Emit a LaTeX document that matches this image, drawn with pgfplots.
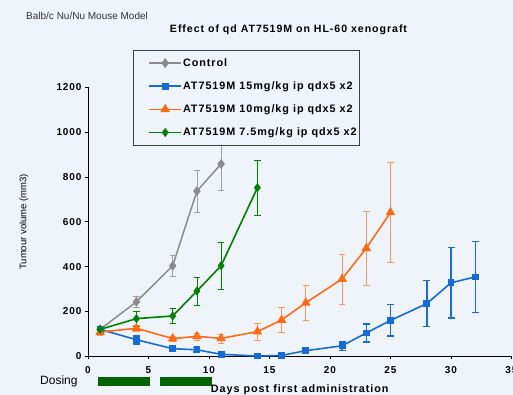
\documentclass[border=0pt]{standalone}
\usepackage{fontspec}
\setmainfont{Liberation Sans}
\newfontfamily\lsfont[LetterSpace=9]{Liberation Sans}
\usepackage{pgfplots}
\pgfplotsset{compat=1.18}
\usepackage{pgfplotstable}
\definecolor{bg}{RGB}{239,244,251}
\definecolor{cgray}{RGB}{140,140,140}
\definecolor{cgraye}{RGB}{160,160,160}
\definecolor{cblue}{RGB}{22,108,212}
\definecolor{corange}{RGB}{255,106,20}
\definecolor{corangee}{RGB}{255,150,90}
\definecolor{cgreen}{RGB}{0,128,0}
\definecolor{cdose}{RGB}{0,100,0}

\pgfplotstableread{
x y e
1 120 10
4 243 25
7 404 45
9 737 95
11 858 118
}\control
\pgfplotstableread{
x y e
1 120 12
4 74 20
7 34 8
9 29 10
11 9 8
14 1 3
16 4 4
18 25 10
21 47 20
23 104 40
25 160 70
28 235 102
30 328 158
32 354 158
}\blue
\pgfplotstableread{
x y e
1 108 12
4 125 15
7 79 12
9 89 15
11 80 20
14 110 36
16 162 56
18 239 80
21 345 112
23 482 167
25 642 224
}\orange
\pgfplotstableread{
x y e
1 120 10
4 168 33
7 180 34
9 291 62
11 404 103
14 752 124
}\green

\begin{document}
\begin{tikzpicture}
\fill[bg] (-88pt,-38.7pt) rectangle (425pt,356.3pt);
\begin{axis}[
  scale only axis, width=423.5pt, height=269pt,
  xmin=0, xmax=35, ymin=0, ymax=1200,
  axis x line=bottom, axis y line=left,
  axis line style={-, black, line width=0.8pt},
  clip=false,
  xtick={0,5,...,35}, ytick={0,200,...,1200},
  tick align=outside, major tick length=3pt,
  tick style={black, line width=0.6pt},
  /pgf/number format/assume math mode=true,
  /pgf/number format/set thousands separator={},
  ticklabel style={font=\lsfont\bfseries\fontsize{10}{12}\selectfont},
  xticklabel style={yshift=-4pt},
  ylabel={Tumour volume (mm3)},
  ylabel style={at={(axis description cs:-0.1511,0.5)}, anchor=center, font=\fontsize{9.5}{11}\selectfont},
  xlabel={Days post first administration},
  xlabel style={at={(axis description cs:0.5,0)}, anchor=center, yshift=-33.3pt, font=\lsfont\bfseries\fontsize{10.8}{12}\selectfont},
  legend cell align=left,
  legend style={at={(axis description cs:0.107,1.1387)}, anchor=north west, draw=black!75, fill=bg, line width=0.6pt,
    inner xsep=1.8pt, inner ysep=1.3pt, row sep=0pt,
    font=\lsfont\bfseries\fontsize{10.8}{12}\selectfont,
    nodes={inner xsep=1pt, inner ysep=0pt, minimum height=23.1pt}},
  legend image code/.code={\path (0pt,0pt); \draw[mark repeat=2,mark phase=2,#1] plot coordinates {(13pt,0pt)(29pt,0pt)(45pt,0pt)};},
  error bars/error bar style={line width=0.8pt},
  error bars/error mark options={rotate=90, mark size=3.2pt, line width=0.8pt},
]
\addplot[cgray, line width=1.5pt, mark=diamond*, mark size=3.8pt,
  error bars/.cd, y dir=both, y explicit, error bar style={cgraye}, error mark options={cgraye, rotate=90, mark size=3.2pt}]
  table[x=x, y=y, y error=e] {\control};
\addlegendentry{Control}
\addplot[cblue, line width=1.6pt, mark=square*, mark size=2.6pt,
  error bars/.cd, y dir=both, y explicit, error bar style={cblue, line width=1.4pt}, error mark options={cblue, rotate=90, mark size=3.5pt, line width=1.4pt}]
  table[x=x, y=y, y error=e] {\blue};
\addlegendentry{AT7519M 15mg/kg ip qdx5 x2}
\addplot[corange, line width=1.6pt, mark=triangle*, mark size=4pt,
  error bars/.cd, y dir=both, y explicit, error bar style={corangee}, error mark options={corangee, rotate=90, mark size=3.2pt}]
  table[x=x, y=y, y error=e] {\orange};
\addlegendentry{AT7519M 10mg/kg ip qdx5 x2}
\addplot[cgreen, line width=1.6pt, mark=diamond*, mark size=3.3pt,
  error bars/.cd, y dir=both, y explicit, error bar style={cgreen}, error mark options={cgreen, rotate=90, mark size=3.2pt}]
  table[x=x, y=y, y error=e] {\green};
\addlegendentry{AT7519M 7.5mg/kg ip qdx5 x2}
\fill[cdose] (axis cs:0.85,-91) rectangle (axis cs:5.12,-132.5);
\fill[cdose] (axis cs:5.95,-91) rectangle (axis cs:10.22,-132.5);
\end{axis}
\node[anchor=west, text=black!80, font=\fontsize{10}{12}\selectfont, inner sep=0pt] at (-62pt,340.6pt) {Balb/c Nu/Nu Mouse Model};
\node[font=\lsfont\bfseries\fontsize{10.6}{12}\selectfont, inner sep=0pt] at (200.5pt,326.8pt) {Effect of qd AT7519M on HL-60 xenograft};
\node[anchor=west, font=\fontsize{12}{14}\selectfont, inner sep=0pt] at (-48pt,-24.7pt) {Dosing};
\pgfresetboundingbox
\path[use as bounding box] (-88pt,-38.7pt) rectangle (425pt,356.3pt);
\end{tikzpicture}
\end{document}
